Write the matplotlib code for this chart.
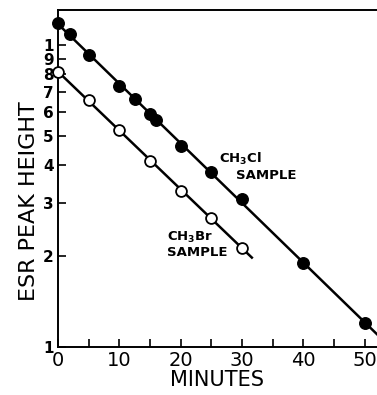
import numpy as np
import matplotlib
matplotlib.use("Agg")
import matplotlib.pyplot as plt
from matplotlib.ticker import FixedLocator, FixedFormatter

plt.rcParams['mathtext.fontset'] = 'dejavusans'

# CH3Cl sample (filled circles)
cl_minutes = [0, 2, 5, 10, 12.5, 15, 16, 20, 25, 30, 40, 50]
cl_height = [11.85, 10.9, 9.27, 7.32, 6.61, 5.91, 5.65, 4.63, 3.81, 3.08, 1.90, 1.20]

# CH3Br sample (open circles)
br_minutes = [0, 5, 10, 15, 20, 25, 30]
br_height = [8.14, 6.58, 5.23, 4.13, 3.29, 2.68, 2.13]

y_ticks = [1, 2, 3, 4, 5, 6, 7, 8, 9, 10]
y_ticklabels = ['1', '2', '3', '4', '5', '6', '7', '8', '9', '1']
x_ticks = [0, 10, 20, 30, 40, 50]
x_minor = [5, 15, 25, 35, 45]

W, H = 377, 395
fig = plt.figure(figsize=(W / 100, H / 100), dpi=100)
ax = fig.add_axes([58 / W, 48 / H, 319 / W, 337 / H])

# straight-line fits in log space
cl_fit = np.polyfit(cl_minutes, np.log10(cl_height), 1)
br_fit = np.polyfit(br_minutes, np.log10(br_height), 1)
xc = np.array([0, 53])
xb = np.array([0, 31.6])
ax.plot(xc, 10 ** np.polyval(cl_fit, xc), color='black', lw=1.8, zorder=2)
ax.plot(xb, 10 ** np.polyval(br_fit, xb), color='black', lw=1.8, zorder=2)

ax.plot(cl_minutes, cl_height, 'o', color='black', ms=8.3, zorder=3, clip_on=False)
ax.plot(br_minutes, br_height, 'o', mfc='white', mec='black', mew=1.3, ms=7.8,
        zorder=3, clip_on=False)

ax.set_yscale('log')
ax.set_xlim(0, 52)
ax.set_ylim(1, 13.06)

ax.yaxis.set_major_locator(FixedLocator(y_ticks))
ax.yaxis.set_major_formatter(FixedFormatter(y_ticklabels))
ax.yaxis.set_minor_locator(FixedLocator([]))
ax.xaxis.set_major_locator(FixedLocator(x_ticks))
ax.xaxis.set_minor_locator(FixedLocator(x_minor))

ax.tick_params(axis='y', which='both', direction='in', length=6, width=1.2,
               labelsize=11, pad=3)
ax.tick_params(axis='x', which='both', direction='in', length=6, width=1.2,
               labelsize=14, pad=3)
for lbl in ax.get_yticklabels():
    lbl.set_fontweight('bold')

ax.spines['right'].set_visible(False)
for s in ['left', 'bottom', 'top']:
    ax.spines[s].set_linewidth(1.4)

ax.set_xlabel('MINUTES', fontsize=15, labelpad=0)
ax.set_ylabel('ESR PEAK HEIGHT', fontsize=16)
ax.yaxis.set_label_coords(-0.058, 0.433)

ax.text(26.3, 4.19, r'CH$_{\mathbf{3}}$Cl', fontsize=9.5, fontweight='bold',
        ha='left', va='center')
ax.text(29.0, 3.71, 'SAMPLE', fontsize=9.5, fontweight='bold', ha='left', va='center')
ax.text(17.8, 2.30, r'CH$_{\mathbf{3}}$Br', fontsize=9.5, fontweight='bold',
        ha='left', va='center')
ax.text(17.8, 2.06, 'SAMPLE', fontsize=9.5, fontweight='bold', ha='left', va='center')

fig.savefig('out.png', dpi=100)
